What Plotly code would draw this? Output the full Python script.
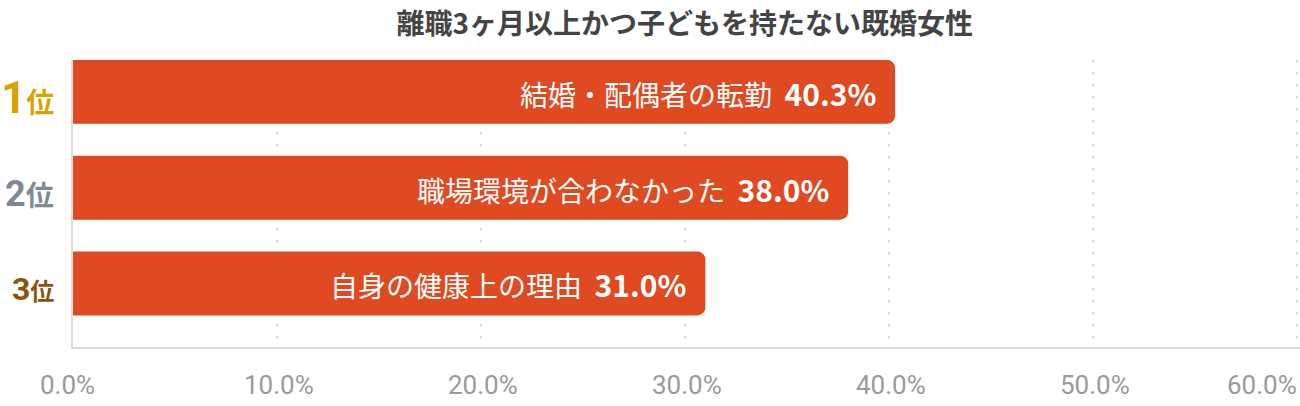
import plotly.graph_objects as go

# data
title_text = "離職3ヶ月以上かつ子どもを持たない既婚女性"
ranks = ["1", "2", "3"]
rank_colors = ["#d4a500", "#7d8a96", "#8a5410"]
reasons = ["結婚・配偶者の転勤", "職場環境が合わなかった", "自身の健康上の理由"]
values = [40.3, 38.0, 31.0]
tick_vals = [0, 10, 20, 30, 40, 50, 60]

BAR = "#e04a22"
FONT = "Noto Sans CJK JP"

positions = list(range(len(values)))

fig = go.Figure(
    go.Bar(
        x=values,
        y=positions,
        orientation="h",
        width=0.667,
        marker=dict(color=BAR, line=dict(width=0), cornerradius=8),
        hoverinfo="skip",
    )
)

# label + percentage inside each bar, right aligned
for i, (r, v) in enumerate(zip(reasons, values)):
    fig.add_annotation(
        x=v, y=i, xref="x", yref="y",
        xanchor="right", yanchor="middle", xshift=-17, yshift=-1,
        text=f"{r}\u00a0\u00a0<b><span style='font-size:30px'>{v:.1f}%</span></b>",
        showarrow=False,
        font=dict(family=FONT, size=28, color="white"),
    )

# rank labels on the left
rank_sizes = [(44, 28), (36, 28), (32, 24)]
for i, (rk, col) in enumerate(zip(ranks, rank_colors)):
    big, small = rank_sizes[i]
    fig.add_annotation(
        x=0, xref="paper", xanchor="right", xshift=-17,
        y=i, yref="y", yanchor="middle", yshift=-6,
        text=(f"<b><span style='font-family:Roboto;font-size:{big}px'>{rk}</span>"
              f"位</b>"),
        showarrow=False,
        font=dict(family=FONT, size=small, color=col),
    )

# tick labels (first/last kept inside the canvas like the reference)
for t in tick_vals:
    anchor = "right" if t == tick_vals[-1] else "center"
    shift = -6 if t == tick_vals[0] else 2
    fig.add_annotation(
        x=t, xref="x", y=0, yref="paper",
        xanchor=anchor, yanchor="middle", yshift=-38, xshift=shift,
        text=f"{t:.1f}%",
        showarrow=False,
        font=dict(family="Roboto", size=26, color="#9a9a9a"),
    )

fig.update_layout(
    width=1300,
    height=406,
    paper_bgcolor="white",
    plot_bgcolor="white",
    margin=dict(l=73, r=0, t=60, b=59, autoexpand=False),
    showlegend=False,
    title=dict(
        text=f"<b>{title_text}</b>",
        x=0.5267, xanchor="center",
        y=0.94, yanchor="middle",
        font=dict(family=FONT, size=28, color="#444444"),
    ),
    xaxis=dict(
        range=[0, 60.15],
        tickvals=tick_vals,
        showticklabels=False,
        showgrid=True,
        gridcolor="#dddddd",
        gridwidth=2,
        griddash="3px,9px",
        zeroline=False,
        showline=True,
        linecolor="#dddddd",
        linewidth=2,
        ticks="",
        automargin=False,
        fixedrange=True,
    ),
    yaxis=dict(
        range=[2.663, -0.333],
        showticklabels=False,
        showgrid=False,
        zeroline=False,
        showline=True,
        linecolor="#dddddd",
        linewidth=2,
        ticks="",
        automargin=False,
        fixedrange=True,
    ),
)

# drop the default 8px body margin so the figure fills the window exactly
fig.write_html(
    "out.html",
    config={"displayModeBar": False},
    post_script="document.body.style.margin='0';document.body.style.overflow='hidden';",
)
